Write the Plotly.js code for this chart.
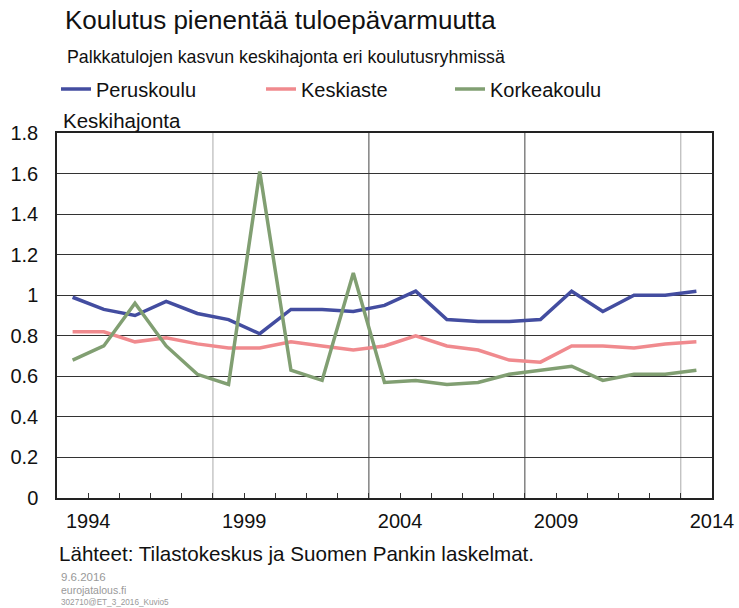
<!DOCTYPE html>
<html>
<head>
<meta charset="utf-8">
<script src="https://cdn.plot.ly/plotly-3.0.1.min.js"></script>
<style>
  html, body { margin: 0; padding: 0; background: #ffffff; }
  #chart { width: 739px; height: 608px; }
</style>
</head>
<body>
<div id="chart"></div>
<script>
// ---- Data ----
const years = [1993, 1994, 1995, 1996, 1997, 1998, 1999, 2000, 2001, 2002, 2003,
               2004, 2005, 2006, 2007, 2008, 2009, 2010, 2011, 2012, 2013];
const peruskoulu = [0.99, 0.93, 0.90, 0.97, 0.91, 0.88, 0.81, 0.93, 0.93, 0.92, 0.95,
                    1.02, 0.88, 0.87, 0.87, 0.88, 1.02, 0.92, 1.00, 1.00, 1.02];
const keskiaste = [0.82, 0.82, 0.77, 0.79, 0.76, 0.74, 0.74, 0.77, 0.75, 0.73, 0.75,
                   0.80, 0.75, 0.73, 0.68, 0.67, 0.75, 0.75, 0.74, 0.76, 0.77];
const korkeakoulu = [0.68, 0.75, 0.96, 0.75, 0.61, 0.56, 1.61, 0.63, 0.58, 1.11, 0.57,
                     0.58, 0.56, 0.57, 0.61, 0.63, 0.65, 0.58, 0.61, 0.61, 0.63];
const seriesNames = ['Peruskoulu', 'Keskiaste', 'Korkeakoulu'];
const xTickLabels = ['1994', '1999', '2004', '2009', '2014'];
const dividerYears = [1998, 2003, 2008, 2013];

// ---- Styling ----
const colors = ['#434da0', '#f08a8e', '#819f72'];
const FONT = 'Liberation Sans, Arial, sans-serif';
// each year's point sits in the middle of its slot; labels sit on slot borders
const xs = years.map(y => y + 0.5);

const values = [peruskoulu, keskiaste, korkeakoulu];
const legendIds = ['legend', 'legend2', 'legend3'];
const traces = values.map((v, i) => ({
  type: 'scatter',
  mode: 'lines',
  name: seriesNames[i],
  x: xs,
  y: v,
  line: { color: colors[i], width: 3.5 },
  legend: legendIds[i],
  hoverinfo: 'x+y+name'
}));

const legendBase = {
  orientation: 'h',
  xanchor: 'left',
  yanchor: 'middle',
  y: 1.1205,
  bgcolor: 'rgba(0,0,0,0)',
  font: { family: FONT, size: 20, color: '#111' },
  itemclick: false,
  itemdoubleclick: false
};

const dividerColors = ['#aaaaaa', '#444444', '#444444', '#aaaaaa'];
const shapes = dividerYears.map((yr, i) => ({
  type: 'line',
  xref: 'x', yref: 'paper',
  x0: yr, x1: yr, y0: 0, y1: 1,
  line: { color: dividerColors[i], width: 1 },
  layer: 'below'
}));

const layout = {
  width: 739,
  height: 608,
  margin: { l: 57, r: 27, t: 133, b: 110 },
  paper_bgcolor: '#ffffff',
  plot_bgcolor: '#ffffff',
  font: { family: FONT, color: '#111' },
  title: {
    text: 'Koulutus pienentää tuloepävarmuutta',
    font: { family: FONT, size: 26, color: '#111' },
    x: 65 / 739,
    xanchor: 'left',
    xref: 'container',
    y: 1 - 20 / 608,
    yref: 'container',
    yanchor: 'middle'
  },
  showlegend: true,
  legend: Object.assign({}, legendBase, { x: (56 - 57) / 655 }),
  legend2: Object.assign({}, legendBase, { x: (261 - 57) / 655 }),
  legend3: Object.assign({}, legendBase, { x: (450 - 57) / 655 }),
  xaxis: {
    range: [years[0], years[years.length - 1] + 1],
    tickvals: xTickLabels.map(t => +t),
    ticktext: xTickLabels,
    ticks: 'inside',
    ticklen: 5,
    tickcolor: '#333',
    tickfont: { family: FONT, size: 20, color: '#111' },
    ticklabelstandoff: 4,
    minor: { dtick: 1, tick0: years[0], ticks: 'inside', ticklen: 5, tickcolor: '#333', showgrid: false },
    showgrid: false,
    zeroline: false,
    showline: true,
    linecolor: '#222',
    linewidth: 1.5,
    mirror: true,
    fixedrange: true
  },
  yaxis: {
    range: [0, 1.8],
    tick0: 0,
    dtick: 0.2,
    ticks: '',
    tickfont: { family: FONT, size: 20, color: '#111' },
    ticklabelstandoff: 13,
    showgrid: true,
    gridcolor: '#333',
    gridwidth: 1,
    zeroline: false,
    showline: true,
    linecolor: '#222',
    linewidth: 1.5,
    mirror: true,
    fixedrange: true
  },
  shapes: shapes,
  annotations: [
    {
      text: 'Palkkatulojen kasvun keskihajonta eri koulutusryhmissä',
      xref: 'paper', yref: 'paper',
      x: (65 - 57) / 655, y: 1 + (133 - 57) / 365,
      xanchor: 'left', yanchor: 'middle', showarrow: false,
      font: { family: FONT, size: 17.8, color: '#111' }
    },
    {
      text: 'Keskihajonta',
      xref: 'paper', yref: 'paper',
      x: (61 - 57) / 655, y: 1 + (133 - 121) / 365,
      xanchor: 'left', yanchor: 'middle', showarrow: false,
      font: { family: FONT, size: 20.5, color: '#111' }
    },
    {
      text: 'Lähteet: Tilastokeskus ja Suomen Pankin laskelmat.',
      xref: 'paper', yref: 'paper',
      x: (57 - 57) / 655, y: -(553 - 498) / 365,
      xanchor: 'left', yanchor: 'middle', showarrow: false,
      font: { family: FONT, size: 20.6, color: '#111' }
    },
    {
      text: '9.6.2016',
      xref: 'paper', yref: 'paper',
      x: (59 - 57) / 655, y: -(577 - 498) / 365,
      xanchor: 'left', yanchor: 'middle', showarrow: false,
      font: { family: FONT, size: 11.5, color: '#999' }
    },
    {
      text: 'eurojatalous.fi',
      xref: 'paper', yref: 'paper',
      x: (59 - 57) / 655, y: -(590 - 498) / 365,
      xanchor: 'left', yanchor: 'middle', showarrow: false,
      font: { family: FONT, size: 10.5, color: '#999' }
    },
    {
      text: '302710@ET_3_2016_Kuvio5',
      xref: 'paper', yref: 'paper',
      x: (59 - 57) / 655, y: -(602 - 498) / 365,
      xanchor: 'left', yanchor: 'middle', showarrow: false,
      font: { family: FONT, size: 8.2, color: '#999' }
    }
  ]
};

Plotly.newPlot('chart', traces, layout, { displayModeBar: false, staticPlot: false, responsive: false });
</script>
</body>
</html>
